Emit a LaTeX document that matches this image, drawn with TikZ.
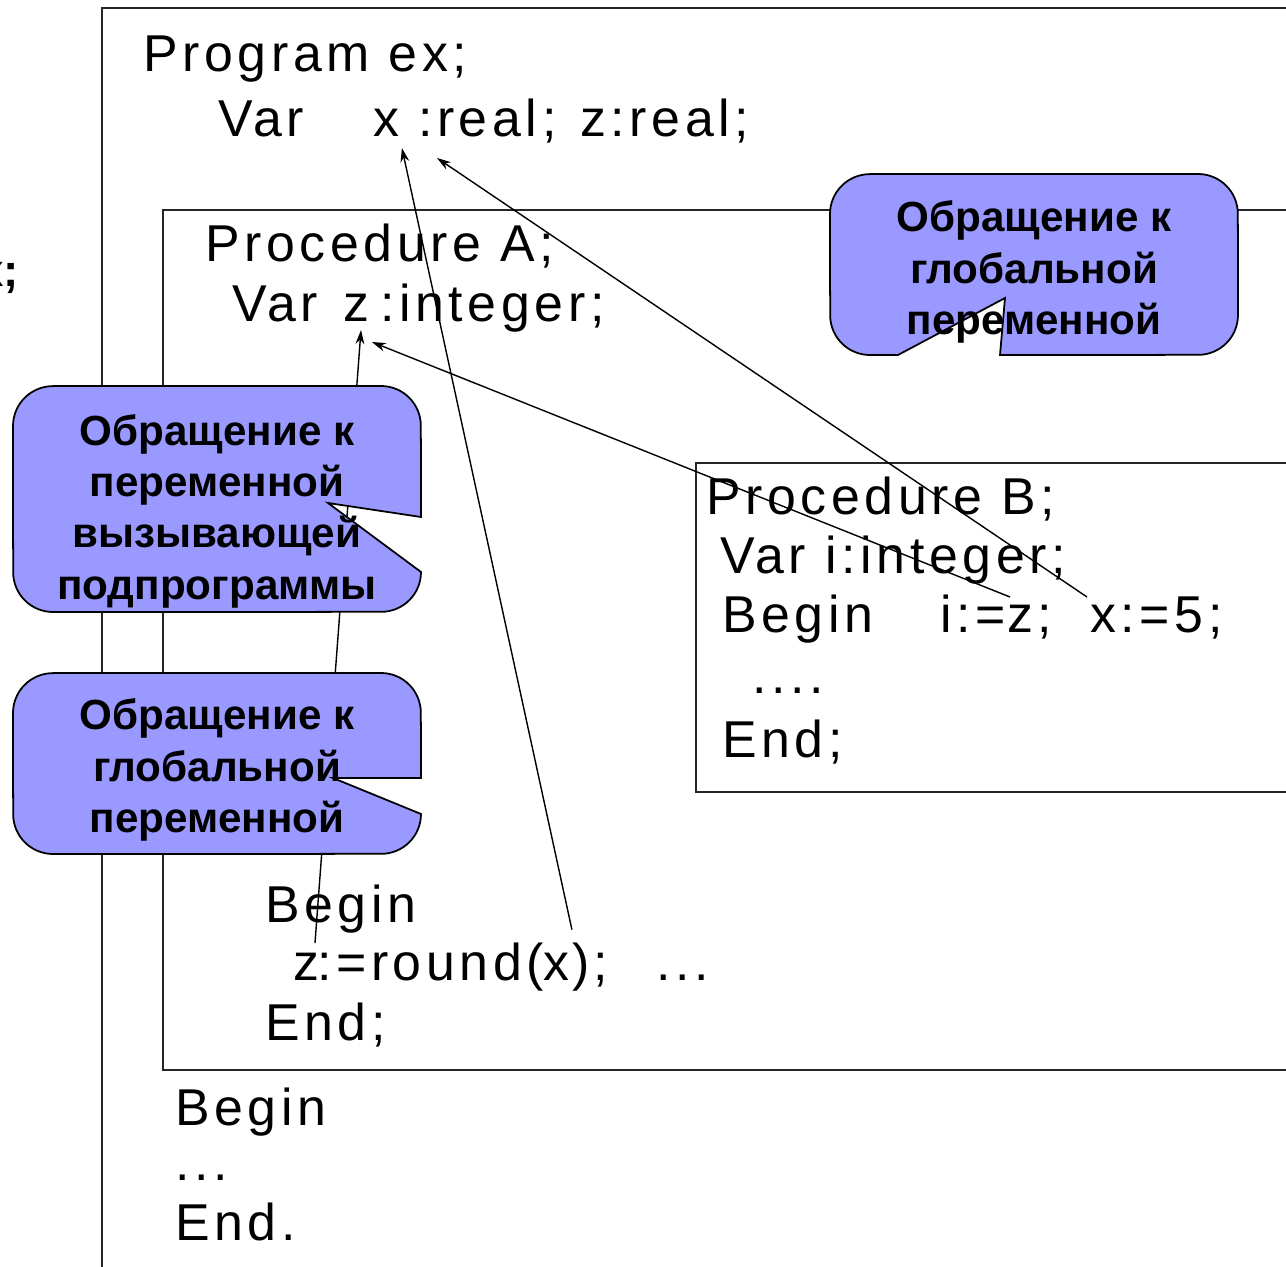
\documentclass[tikz,border=0pt]{standalone}
\usepackage{fontspec}
\setmainfont{Liberation Sans}
\newfontfamily\codefam[LetterSpace=9]{Liberation Sans}
\usetikzlibrary{arrows.meta}
\definecolor{callfill}{HTML}{9999FF}
\begin{document}
\begin{tikzpicture}[x=0.02cm,y=-0.02cm,
  code/.style={font=\codefam\fontsize{29.5}{35}\selectfont, anchor=base west, inner sep=0pt, outer sep=0pt},
  callout/.style={draw=black, line width=1pt, fill=callfill},
  calltext/.style={font=\bfseries\fontsize{24}{29.2}\selectfont, align=center, inner sep=0pt},
  box/.style={draw=black!85, line width=0.9pt},
  ref/.style={line width=0.8pt, -{Stealth[length=8pt,width=5pt]}},
]
\useasboundingbox (0,0) rectangle (1286,1267);

% frames
\draw[box] (102,1267) -- (102,8) -- (1286,8);
\draw[box] (1286,210) -- (163,210) -- (163,1070) -- (1286,1070);
\draw[box] (1286,463) -- (696,463) -- (696,792) -- (1286,792);

% text cut by the left edge, as in the reference
\node[font=\bfseries\fontsize{26}{30}\selectfont, anchor=base east, inner sep=0pt] (lx) at (19,287) {x;};

% main program
\node[code] (prog) at (143,72) {Program ex;};
\node[code] (gvar) at (218,137) {Var};
\node[code] (gx) at (373,137) {x};
\node[code] (greal) at (418,137) {:real;};
\node[code] (gzr) at (580,137) {z:real;};

% procedure A
\node[code] (procA) at (205,262) {Procedure A;};
\node[code] (avar) at (232,322) {Var};
\node[code] (az) at (343,322) {z};
\node[code] (aint) at (380,322) {:integer;};
\node[code] (abegin) at (265,922) {Begin};
\node[code] (az2) at (293,980) {z};
\node[code] (around) at (317,980) {:=round(};
\node[code] (rx) at (543,980) {x};
\node[code] (aclose) at (572,980) {);};
\node[code] (adots) at (656,980) {...};
\node[code] (aend) at (265,1040) {End;};

% procedure B
\node[code] (procB) at (706,515) {Procedure B;};
\node[code] (bvar) at (720,573) {Var i:integer;};
\node[code] (bbegin) at (722,632) {Begin};
\node[code] (bi) at (940,632) {i:=};
\node[code] (bz) at (1007,632) {z;};
\node[code] (bx) at (1090,632) {x:=5;};
\node[code] (bdots) at (752,693) {....};
\node[code] (bend) at (722,757) {End;};

% main body
\node[code] (mbegin) at (175,1125) {Begin};
\node[code] (mdots) at (175,1180) {...};
\node[code] (mend) at (175,1240) {End.};

% references
\draw[ref] ([shift={(3,-23)}]rx.north east) -- ([shift={(3,11)}]gx.base east);
\draw[ref] ([shift={(-3,-35)}]bx.base west) -- ([shift={(19,21)}]greal.base west);
\draw[ref] ([shift={(3,-35)}]bz.base west) -- ([shift={(3,20)}]az.base east);
\draw[ref] ([shift={(22,-37)}]az2.base west) -- ([shift={(18,8)}]az.base west);

% callouts
\draw[callout] (53,386) -- (381,386) arc[start angle=90,end angle=0,radius=22.68pt]
  -- (421,517) -- (328,503) -- (421,572) arc[start angle=0,end angle=-90,radius=22.68pt]
  -- (53,612) arc[start angle=270,end angle=180,radius=22.68pt]
  -- (13,426) arc[start angle=180,end angle=90,radius=22.68pt] -- cycle;
\draw[callout] (53,673) -- (381,673) arc[start angle=90,end angle=0,radius=22.68pt]
  -- (421,778) -- (333,778) -- (421,814) arc[start angle=0,end angle=-90,radius=22.68pt]
  -- (53,854) arc[start angle=270,end angle=180,radius=22.68pt]
  -- (13,713) arc[start angle=180,end angle=90,radius=22.68pt] -- cycle;
\draw[callout] (870,174) -- (1198,174) arc[start angle=90,end angle=0,radius=22.68pt]
  -- (1238,315) arc[start angle=0,end angle=-90,radius=22.68pt]
  -- (1000,355) -- (1005,298) -- (898,355)
  -- (870,355) arc[start angle=270,end angle=180,radius=22.68pt]
  -- (830,214) arc[start angle=180,end angle=90,radius=22.68pt] -- cycle;

\node[calltext] (t1) at (217,511) {Обращение к\\переменной\\вызывающей\\подпрограммы};
\node[calltext] (t2) at (217,770) {Обращение к\\глобальной\\переменной};
\node[calltext] (t3) at (1034,272) {Обращение к\\глобальной\\переменной};
\end{tikzpicture}
\end{document}
